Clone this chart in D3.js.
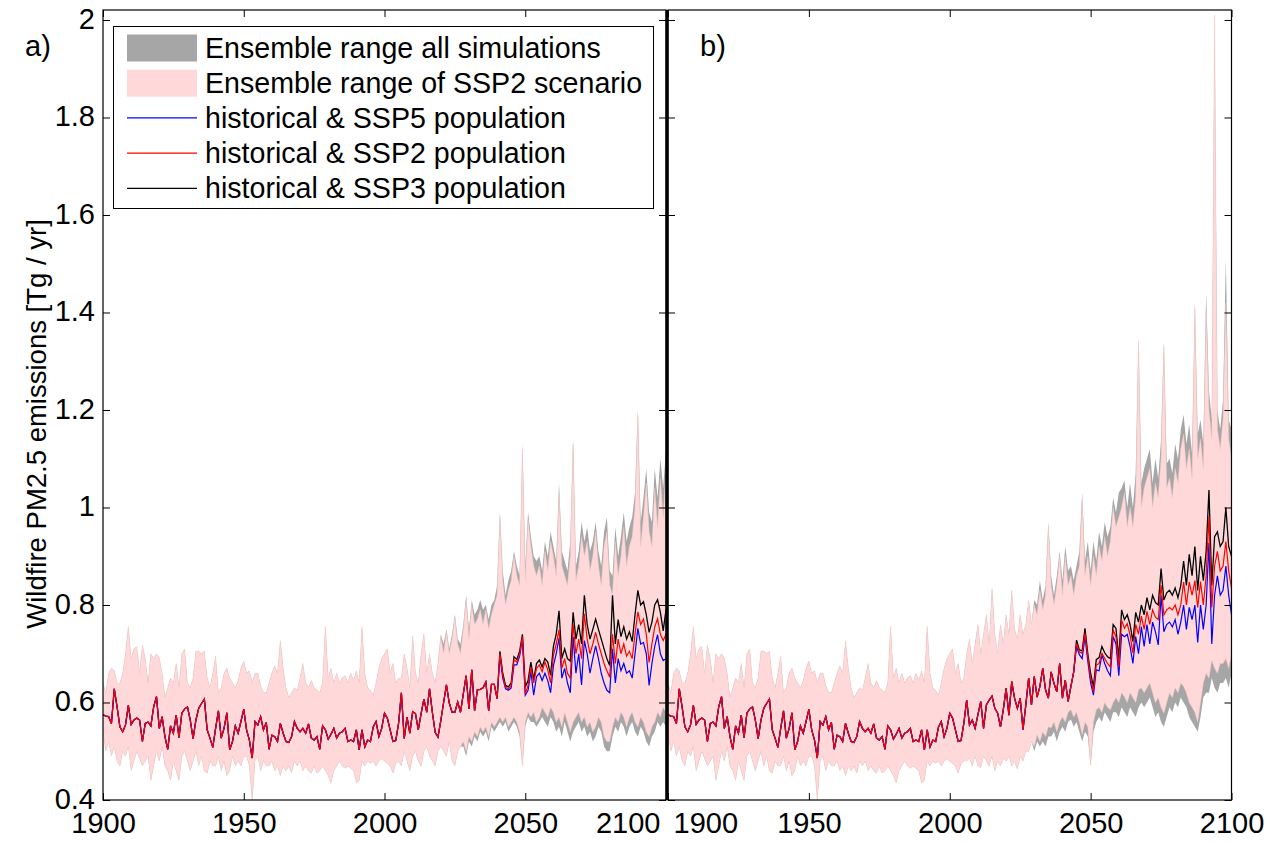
<!DOCTYPE html>
<html>
<head>
<meta charset="utf-8">
<script src="https://cdn.jsdelivr.net/npm/d3@7"></script>
<style>
  body { margin: 0; background: #fff; }
  svg { font-family: "Liberation Sans", Arial, Helvetica, sans-serif; }
  .tick text { font-size: 29px; fill: #000; }
  .tick line { stroke: #000; stroke-width: 1; }
</style>
</head>
<body>
<div id="chart"></div>
<script>
// years on the x axis
var startYear = 1900, endYear = 2100, splitYear = 2006, lineSplitYear = 2040
var xTicks = [1900, 1950, 2000, 2050, 2100]
var yTicks = [0.4, 0.6, 0.8, 1, 1.2, 1.4, 1.6, 1.8, 2]
var yTickLabels = ['0.4', '0.6', '0.8', '1', '1.2', '1.4', '1.6', '1.8', '2']

// historical part (1900-2005), same in both panels
var histLine = [
  0.575, 0.572, 0.571, 0.557, 0.628, 0.591, 0.550, 0.540, 0.554, 0.594,
  0.555, 0.564, 0.568, 0.564, 0.520, 0.557, 0.560, 0.552, 0.591, 0.612,
  0.547, 0.571, 0.530, 0.504, 0.552, 0.537, 0.574, 0.528, 0.578, 0.587,
  0.591, 0.564, 0.526, 0.564, 0.588, 0.598, 0.607, 0.544, 0.527, 0.508,
  0.547, 0.583, 0.527, 0.547, 0.579, 0.503, 0.520, 0.552, 0.537, 0.561,
  0.586, 0.544, 0.523, 0.486, 0.561, 0.554, 0.571, 0.544, 0.559, 0.504,
  0.533, 0.530, 0.520, 0.557, 0.537, 0.520, 0.518, 0.530, 0.561, 0.547,
  0.540, 0.547, 0.537, 0.556, 0.527, 0.523, 0.530, 0.504, 0.552, 0.544,
  0.525, 0.535, 0.547, 0.527, 0.537, 0.540, 0.547, 0.520, 0.523, 0.520,
  0.544, 0.503, 0.544, 0.509, 0.523, 0.520, 0.550, 0.561, 0.530, 0.547,
  0.578, 0.568, 0.544, 0.520, 0.522, 0.557]
var histUp = [
  0.64, 0.62, 0.66, 0.67, 0.665, 0.64, 0.64, 0.66, 0.70, 0.756,
  0.69, 0.71, 0.715, 0.66, 0.718, 0.69, 0.64, 0.70, 0.69, 0.70,
  0.69, 0.66, 0.61, 0.63, 0.65, 0.64, 0.68, 0.63, 0.70, 0.71,
  0.64, 0.63, 0.65, 0.705, 0.705, 0.70, 0.705, 0.65, 0.63, 0.66,
  0.695, 0.62, 0.63, 0.66, 0.67, 0.65, 0.64, 0.63, 0.645, 0.67,
  0.685, 0.66, 0.665, 0.64, 0.66, 0.66, 0.635, 0.62, 0.62, 0.64,
  0.66, 0.675, 0.66, 0.727, 0.67, 0.63, 0.61, 0.62, 0.63, 0.625,
  0.65, 0.68, 0.64, 0.63, 0.645, 0.63, 0.625, 0.62, 0.64, 0.756,
  0.65, 0.67, 0.64, 0.66, 0.64, 0.65, 0.655, 0.64, 0.66, 0.645,
  0.665, 0.64, 0.756, 0.66, 0.63, 0.625, 0.615, 0.64, 0.67, 0.69,
  0.70, 0.71, 0.66, 0.68, 0.64, 0.65]
var histLo = [
  0.54, 0.50, 0.52, 0.49, 0.51, 0.48, 0.47, 0.50, 0.49, 0.51,
  0.46, 0.48, 0.50, 0.485, 0.47, 0.48, 0.49, 0.44, 0.47, 0.50,
  0.48, 0.51, 0.47, 0.46, 0.44, 0.48, 0.46, 0.44, 0.49, 0.50,
  0.48, 0.46, 0.48, 0.50, 0.47, 0.49, 0.46, 0.455, 0.48, 0.47,
  0.47, 0.49, 0.46, 0.48, 0.45, 0.46, 0.49, 0.47, 0.48, 0.47,
  0.49, 0.49, 0.47, 0.40, 0.48, 0.49, 0.46, 0.48, 0.47, 0.47,
  0.48, 0.46, 0.47, 0.45, 0.47, 0.46, 0.47, 0.455, 0.48, 0.47,
  0.48, 0.46, 0.47, 0.46, 0.455, 0.47, 0.455, 0.46, 0.47, 0.46,
  0.45, 0.435, 0.46, 0.47, 0.48, 0.47, 0.465, 0.47, 0.465, 0.46,
  0.435, 0.44, 0.48, 0.47, 0.48, 0.475, 0.48, 0.47, 0.48, 0.485,
  0.48, 0.475, 0.47, 0.455, 0.475, 0.48]

// panel a, 2006-2100 (SSP5/SSP3 lines from 2040)
var aSsp2 = [
  0.620, 0.526, 0.570, 0.537,
  0.581, 0.577, 0.544, 0.577, 0.607, 0.580, 0.628, 0.580, 0.539, 0.529,
  0.563, 0.600, 0.636, 0.599, 0.580, 0.580, 0.601, 0.580, 0.618, 0.655,
  0.587, 0.667, 0.583, 0.626, 0.627, 0.630, 0.642, 0.583, 0.637, 0.637,
  0.608, 0.700, 0.655, 0.631, 0.628, 0.635, 0.687, 0.683, 0.700, 0.735,
  0.618, 0.635, 0.673, 0.640, 0.670, 0.677, 0.663, 0.683, 0.667, 0.640,
  0.696, 0.720, 0.749, 0.670, 0.690, 0.660, 0.650, 0.761, 0.700, 0.730,
  0.690, 0.782, 0.730, 0.700, 0.720, 0.744, 0.720, 0.700, 0.680, 0.665,
  0.652, 0.740, 0.680, 0.730, 0.700, 0.720, 0.695, 0.705, 0.690, 0.740,
  0.786, 0.760, 0.771, 0.740, 0.682, 0.720, 0.755, 0.772, 0.740, 0.727, 0.740]
var aSsp5 = [
  0.608, 0.695, 0.650, 0.628, 0.625, 0.630, 0.677, 0.677, 0.695, 0.730,
  0.615, 0.625, 0.663, 0.615, 0.653, 0.660, 0.645, 0.660, 0.645, 0.620,
  0.675, 0.700, 0.732, 0.650, 0.670, 0.640, 0.620, 0.735, 0.660, 0.700,
  0.636, 0.727, 0.700, 0.660, 0.690, 0.716, 0.690, 0.660, 0.640, 0.625,
  0.620, 0.710, 0.640, 0.690, 0.665, 0.680, 0.660, 0.665, 0.650, 0.700,
  0.752, 0.720, 0.723, 0.700, 0.635, 0.680, 0.715, 0.739, 0.700, 0.686, 0.690]
var aSsp3 = [
  0.608, 0.705, 0.660, 0.635, 0.632, 0.640, 0.694, 0.688, 0.705, 0.740,
  0.632, 0.645, 0.683, 0.647, 0.680, 0.687, 0.673, 0.690, 0.683, 0.656,
  0.715, 0.740, 0.788, 0.690, 0.710, 0.690, 0.685, 0.785, 0.730, 0.760,
  0.720, 0.820, 0.760, 0.730, 0.750, 0.771, 0.750, 0.730, 0.710, 0.690,
  0.676, 0.820, 0.720, 0.770, 0.735, 0.755, 0.730, 0.745, 0.725, 0.780,
  0.830, 0.800, 0.807, 0.780, 0.744, 0.765, 0.800, 0.811, 0.785, 0.747, 0.790]
var aPinkUp = [
  0.65, 0.70, 0.67, 0.63,
  0.737, 0.66, 0.64, 0.70, 0.741, 0.66, 0.70, 0.66, 0.64, 0.68,
  0.735, 0.70, 0.745, 0.70, 0.73, 0.776, 0.72, 0.70, 0.75, 0.81,
  0.73, 0.80, 0.76, 0.77, 0.79, 0.76, 0.79, 0.75, 0.78, 0.80,
  0.82, 0.98, 0.85, 0.80, 0.83, 0.85, 0.90, 0.86, 0.84, 1.12,
  0.85, 0.975, 0.92, 0.88, 0.86, 0.88, 0.84, 0.91, 0.87, 0.93,
  0.90, 0.86, 1.03, 0.88, 0.86, 0.84, 0.90, 1.13, 0.85, 0.88,
  0.94, 0.90, 0.93, 0.87, 0.90, 0.95, 0.88, 0.84, 0.92, 0.95,
  0.84, 0.82, 0.93, 0.86, 0.90, 0.96, 0.88, 0.92, 0.94, 1.00,
  1.19, 0.92, 0.98, 1.05, 0.95, 0.92, 1.04, 0.96, 1.06, 0.98, 1.08]
var aPinkLo = [
  0.47, 0.50, 0.48, 0.46,
  0.49, 0.50, 0.48, 0.47, 0.50, 0.51, 0.49, 0.48, 0.47, 0.50,
  0.51, 0.50, 0.49, 0.52, 0.48, 0.47, 0.50, 0.51, 0.52, 0.50,
  0.53, 0.52, 0.54, 0.53, 0.55, 0.54, 0.55, 0.53, 0.56, 0.55,
  0.56, 0.57, 0.56, 0.57, 0.55, 0.56, 0.57, 0.56, 0.54, 0.47,
  0.56, 0.58, 0.57, 0.58, 0.56, 0.57, 0.59, 0.58, 0.57, 0.59,
  0.58, 0.56, 0.57, 0.55, 0.58, 0.56, 0.54, 0.56, 0.57, 0.58,
  0.56, 0.57, 0.55, 0.56, 0.54, 0.55, 0.57, 0.56, 0.53, 0.52,
  0.52, 0.55, 0.57, 0.56, 0.58, 0.57, 0.55, 0.57, 0.58, 0.56,
  0.55, 0.57, 0.56, 0.54, 0.53, 0.55, 0.56, 0.58, 0.57, 0.59, 0.58]
var aGreyUp = [
  0.65, 0.70, 0.67, 0.63,
  0.737, 0.66, 0.64, 0.70, 0.741, 0.66, 0.70, 0.66, 0.64, 0.68,
  0.74, 0.72, 0.75, 0.71, 0.74, 0.78, 0.73, 0.72, 0.76, 0.82,
  0.75, 0.81, 0.78, 0.79, 0.81, 0.79, 0.80, 0.77, 0.80, 0.81,
  0.84, 0.99, 0.87, 0.82, 0.85, 0.87, 0.91, 0.88, 0.86, 1.13,
  0.88, 0.99, 0.94, 0.90, 0.89, 0.90, 0.87, 0.93, 0.90, 0.95,
  0.92, 0.89, 1.05, 0.91, 0.89, 0.87, 0.93, 1.14, 0.88, 0.91,
  0.97, 0.93, 0.96, 0.91, 0.93, 0.97, 0.91, 0.88, 0.95, 0.98,
  0.87, 0.86, 0.96, 0.90, 0.94, 0.99, 0.93, 0.96, 0.98, 1.03,
  1.20, 0.97, 1.02, 1.08, 0.99, 0.97, 1.08, 1.02, 1.10, 1.04, 1.12]
var aGreyLo = [
  0.47, 0.50, 0.48, 0.46,
  0.49, 0.50, 0.48, 0.47, 0.50, 0.51, 0.49, 0.48, 0.47, 0.50,
  0.51, 0.50, 0.49, 0.52, 0.48, 0.47, 0.50, 0.51, 0.51, 0.49,
  0.52, 0.51, 0.53, 0.52, 0.54, 0.53, 0.54, 0.52, 0.55, 0.54,
  0.55, 0.56, 0.55, 0.56, 0.54, 0.55, 0.56, 0.55, 0.53, 0.47,
  0.55, 0.57, 0.56, 0.56, 0.55, 0.56, 0.57, 0.56, 0.55, 0.57,
  0.56, 0.54, 0.55, 0.53, 0.56, 0.54, 0.52, 0.54, 0.55, 0.56,
  0.54, 0.55, 0.53, 0.54, 0.52, 0.53, 0.55, 0.54, 0.51, 0.50,
  0.50, 0.53, 0.55, 0.54, 0.56, 0.55, 0.53, 0.55, 0.56, 0.54,
  0.53, 0.55, 0.54, 0.52, 0.51, 0.53, 0.54, 0.56, 0.55, 0.56, 0.55]

// panel b, 2006-2100
var bSsp2 = [
  0.605, 0.554, 0.564, 0.547,
  0.575, 0.602, 0.547, 0.595, 0.605, 0.613, 0.588, 0.578, 0.550, 0.585,
  0.629, 0.574, 0.643, 0.609, 0.588, 0.609, 0.544, 0.595, 0.650, 0.595,
  0.653, 0.611, 0.633, 0.670, 0.626, 0.609, 0.663, 0.639, 0.622, 0.680,
  0.609, 0.646, 0.602, 0.633, 0.663, 0.721, 0.704, 0.701, 0.742, 0.694,
  0.650, 0.622, 0.677, 0.680, 0.701, 0.690, 0.680, 0.673, 0.749, 0.735,
  0.673, 0.769, 0.752, 0.762, 0.738, 0.701, 0.760, 0.740, 0.777, 0.750,
  0.787, 0.760, 0.790, 0.775, 0.770, 0.841, 0.780, 0.790, 0.795, 0.790,
  0.800, 0.780, 0.800, 0.847, 0.800, 0.847, 0.820, 0.850, 0.795, 0.848,
  0.800, 0.860, 0.982, 0.795, 0.880, 0.910, 0.870, 0.880, 0.930, 0.870, 0.835]
var bSsp5 = [
  0.609, 0.646, 0.602, 0.633, 0.663, 0.715, 0.698, 0.690, 0.735, 0.685,
  0.640, 0.615, 0.667, 0.665, 0.698, 0.680, 0.665, 0.655, 0.735, 0.720,
  0.655, 0.740, 0.735, 0.740, 0.715, 0.680, 0.735, 0.700, 0.755, 0.715,
  0.760, 0.720, 0.765, 0.745, 0.718, 0.820, 0.745, 0.760, 0.765, 0.755,
  0.770, 0.740, 0.765, 0.800, 0.750, 0.795, 0.770, 0.800, 0.723, 0.800,
  0.750, 0.800, 0.927, 0.720, 0.820, 0.860, 0.820, 0.830, 0.880, 0.820, 0.780]
var bSsp3 = [
  0.609, 0.646, 0.602, 0.633, 0.663, 0.728, 0.708, 0.706, 0.752, 0.700,
  0.660, 0.632, 0.688, 0.692, 0.715, 0.702, 0.694, 0.690, 0.760, 0.752,
  0.690, 0.790, 0.770, 0.780, 0.760, 0.725, 0.785, 0.765, 0.800, 0.780,
  0.815, 0.790, 0.820, 0.805, 0.800, 0.875, 0.810, 0.825, 0.830, 0.820,
  0.835, 0.815, 0.840, 0.890, 0.840, 0.904, 0.860, 0.920, 0.830, 0.900,
  0.850, 0.910, 1.036, 0.840, 0.940, 0.950, 0.920, 0.930, 1.000, 0.920, 0.900]
var bPinkUp = [
  0.70, 0.73, 0.68, 0.72,
  0.76, 0.70, 0.74, 0.78, 0.72, 0.834, 0.74, 0.70, 0.76, 0.72,
  0.78, 0.74, 0.831, 0.75, 0.73, 0.78, 0.74, 0.76, 0.81, 0.76,
  0.80, 0.78, 0.83, 0.79, 0.82, 0.96, 0.84, 0.80, 0.84, 0.90,
  0.82, 0.90, 0.84, 0.86, 0.82, 0.86, 0.88, 1.015, 0.86, 0.90,
  0.84, 0.90, 0.86, 0.92, 0.89, 0.94, 0.90, 0.93, 1.00, 0.96,
  0.98, 1.00, 1.03, 0.96, 1.00, 0.96, 1.02, 1.34, 1.00, 1.04,
  1.06, 1.08, 1.00, 1.05, 1.02, 1.10, 1.33, 1.04, 1.06, 1.02,
  1.08, 1.05, 1.12, 1.15, 1.08, 1.12, 1.06, 1.41, 1.10, 1.14,
  1.08, 1.40, 1.20, 1.14, 2.01, 1.16, 1.12, 1.18, 1.42, 1.14, 1.10]
var bPinkLo = [
  0.48, 0.486, 0.47, 0.49,
  0.47, 0.466, 0.49, 0.48, 0.47, 0.49, 0.46, 0.48, 0.47, 0.486,
  0.48, 0.49, 0.47, 0.48, 0.463, 0.49, 0.48, 0.50, 0.50, 0.52,
  0.51, 0.534, 0.52, 0.54, 0.53, 0.55, 0.548, 0.56, 0.54, 0.56,
  0.57, 0.56, 0.58, 0.585, 0.57, 0.58, 0.56, 0.534, 0.56, 0.55,
  0.472, 0.56, 0.585, 0.59, 0.58, 0.60, 0.59, 0.585, 0.60, 0.61,
  0.60, 0.62, 0.612, 0.60, 0.62, 0.61, 0.60, 0.626, 0.63, 0.62,
  0.63, 0.64, 0.62, 0.60, 0.61, 0.59, 0.578, 0.60, 0.62, 0.61,
  0.63, 0.62, 0.64, 0.633, 0.62, 0.60, 0.59, 0.58, 0.56, 0.60,
  0.64, 0.66, 0.65, 0.687, 0.67, 0.66, 0.68, 0.68, 0.69, 0.67, 0.70]
var bGreyUp = [
  0.70, 0.73, 0.68, 0.72,
  0.76, 0.70, 0.74, 0.78, 0.72, 0.834, 0.74, 0.70, 0.76, 0.72,
  0.78, 0.74, 0.831, 0.75, 0.73, 0.78, 0.74, 0.76, 0.81, 0.76,
  0.81, 0.80, 0.85, 0.81, 0.84, 0.97, 0.86, 0.82, 0.86, 0.91,
  0.85, 0.92, 0.87, 0.88, 0.85, 0.88, 0.91, 1.03, 0.89, 0.93,
  0.87, 0.93, 0.89, 0.95, 0.92, 0.97, 0.94, 0.96, 1.02, 0.99,
  1.03, 1.04, 1.056, 1.00, 1.05, 1.00, 1.07, 1.35, 1.05, 1.08,
  1.10, 1.12, 1.05, 1.10, 1.06, 1.14, 1.34, 1.09, 1.10, 1.07,
  1.13, 1.10, 1.16, 1.19, 1.13, 1.17, 1.11, 1.42, 1.15, 1.18,
  1.13, 1.44, 1.24, 1.18, 2.01, 1.20, 1.16, 1.22, 1.51, 1.18, 1.16]
var bGreyLo = [
  0.48, 0.486, 0.47, 0.49,
  0.47, 0.466, 0.49, 0.48, 0.47, 0.49, 0.46, 0.48, 0.47, 0.486,
  0.48, 0.49, 0.47, 0.48, 0.463, 0.49, 0.48, 0.50, 0.50, 0.52,
  0.50, 0.52, 0.51, 0.52, 0.51, 0.53, 0.53, 0.54, 0.52, 0.54,
  0.55, 0.54, 0.56, 0.565, 0.55, 0.56, 0.54, 0.52, 0.54, 0.53,
  0.47, 0.54, 0.56, 0.57, 0.56, 0.58, 0.57, 0.56, 0.58, 0.58,
  0.57, 0.59, 0.58, 0.57, 0.59, 0.58, 0.57, 0.59, 0.60, 0.59,
  0.60, 0.61, 0.59, 0.57, 0.58, 0.56, 0.55, 0.57, 0.59, 0.58,
  0.60, 0.59, 0.61, 0.60, 0.59, 0.57, 0.56, 0.55, 0.54, 0.57,
  0.61, 0.62, 0.62, 0.65, 0.63, 0.62, 0.64, 0.64, 0.65, 0.63, 0.66]

var legendItems = [
  {label: 'Ensemble range all simulations', kind: 'area', color: '#a6a6a6'},
  {label: 'Ensemble range of SSP2 scenario', kind: 'area', color: '#ffd9d9'},
  {label: 'historical & SSP5 population', kind: 'line', color: '#0000ff'},
  {label: 'historical & SSP2 population', kind: 'line', color: '#ff0000'},
  {label: 'historical & SSP3 population', kind: 'line', color: '#000000'}
]

var years = d3.range(startYear, endYear + 1)
var nShared = lineSplitYear - splitYear   // SSP2 values reused before the split

var panels = [
  {id: 'a', label: 'a)', left: 103, right: 666,
   ssp2: aSsp2, ssp5: aSsp5, ssp3: aSsp3, pinkUp: aPinkUp, pinkLo: aPinkLo, greyUp: aGreyUp, greyLo: aGreyLo},
  {id: 'b', label: 'b)', left: 668, right: 1231.5,
   ssp2: bSsp2, ssp5: bSsp5, ssp3: bSsp3, pinkUp: bPinkUp, pinkLo: bPinkLo, greyUp: bGreyUp, greyLo: bGreyLo}
]

var width = 1271, height = 843
var plotTop = 10, plotBottom = 800

var svg = d3.select('#chart').append('svg')
  .attr('width', width)
  .attr('height', height)

var yScale = d3.scaleLinear().domain([0.4, 2.0205]).range([plotBottom, plotTop])

panels.forEach(function(p, pi) {
  var xScale = d3.scaleLinear().domain([startYear, endYear]).range([p.left, p.right])

  var ssp2 = histLine.concat(p.ssp2)
  var ssp5 = histLine.concat(p.ssp2.slice(0, nShared), p.ssp5)
  var ssp3 = histLine.concat(p.ssp2.slice(0, nShared), p.ssp3)
  var pinkUp = histUp.concat(p.pinkUp), pinkLo = histLo.concat(p.pinkLo)
  var greyUp = histUp.concat(p.greyUp), greyLo = histLo.concat(p.greyLo)

  svg.append('clipPath').attr('id', 'clip-' + p.id)
    .append('rect')
    .attr('x', p.left).attr('y', plotTop)
    .attr('width', p.right - p.left).attr('height', plotBottom - plotTop)

  var g = svg.append('g').attr('clip-path', 'url(#clip-' + p.id + ')')

  var band = function(up, lo) {
    return d3.area()
      .x(function(d, i) { return xScale(years[i]) })
      .y0(function(d, i) { return yScale(lo[i]) })
      .y1(function(d) { return yScale(d) })(up)
  }
  var line = d3.line()
    .x(function(d, i) { return xScale(years[i]) })
    .y(function(d) { return yScale(d) })

  g.append('path').attr('d', band(greyUp, greyLo)).attr('fill', '#a6a6a6')
  g.append('path').attr('d', band(pinkUp, pinkLo)).attr('fill', '#ffd9d9')
    .attr('stroke', '#f2c8c8').attr('stroke-width', 0.5)

  g.append('path').attr('d', line(ssp3)).attr('fill', 'none').attr('stroke', '#000').attr('stroke-width', 1.3)
  g.append('path').attr('d', line(ssp5)).attr('fill', 'none').attr('stroke', '#0000ff').attr('stroke-width', 1.2)
  g.append('path').attr('d', line(ssp2)).attr('fill', 'none').attr('stroke', '#ff0000').attr('stroke-width', 1.2)

  // axes, ticks pointing inward on all four sides
  var bottomAxis = svg.append('g')
    .attr('transform', 'translate(0,' + plotBottom + ')')
    .call(d3.axisBottom(xScale).tickValues(xTicks).tickSize(-7).tickSizeOuter(0).tickPadding(12).tickFormat(d3.format('d')))
  bottomAxis.select('.domain').remove()
  // keep the end labels of neighbouring panels from overlapping
  bottomAxis.selectAll('.tick text')
    .attr('text-anchor', function(d) {
      if (pi === 0 && d === endYear) return 'end'
      if (pi === 1 && d === startYear) return 'start'
      return 'middle'
    })
    .attr('x', function(d) {
      if (pi === 0 && d === endYear) return -6
      if (pi === 1 && d === startYear) return 5
      return 0
    })

  svg.append('g')
    .attr('transform', 'translate(0,' + plotTop + ')')
    .call(d3.axisTop(xScale).tickValues(xTicks).tickSize(-7).tickSizeOuter(0).tickFormat(''))
    .select('.domain').remove()

  var leftAxis = svg.append('g')
    .attr('transform', 'translate(' + p.left + ',0)')
    .call(d3.axisLeft(yScale).tickValues(yTicks).tickSize(-7).tickSizeOuter(0).tickPadding(8)
      .tickFormat(function(d, i) { return pi === 0 ? yTickLabels[i] : '' }))
  leftAxis.select('.domain').remove()
  leftAxis.selectAll('.tick text').attr('dy', '0.28em')

  svg.append('g')
    .attr('transform', 'translate(' + p.right + ',0)')
    .call(d3.axisRight(yScale).tickValues(yTicks).tickSize(-7).tickSizeOuter(0).tickFormat(''))
    .select('.domain').remove()

  svg.append('rect')
    .attr('x', p.left).attr('y', plotTop)
    .attr('width', p.right - p.left).attr('height', plotBottom - plotTop)
    .attr('fill', 'none').attr('stroke', '#000').attr('stroke-width', 1.2)

  svg.append('text')
    .attr('x', p.left + (pi === 0 ? -78 : 32))
    .attr('y', 56)
    .style('font-size', '29px')
    .text(p.label)
})

// the shared edge between the two panels is drawn heavier
svg.append('line')
  .attr('x1', 667).attr('x2', 667)
  .attr('y1', plotTop).attr('y2', plotBottom)
  .attr('stroke', '#000').attr('stroke-width', 3)

// y axis title
svg.append('text')
  .attr('transform', 'translate(46,424) rotate(-90)')
  .attr('text-anchor', 'middle')
  .style('font-size', '27.5px')
  .text('Wildfire PM2.5 emissions [Tg / yr]')

// legend
var legend = svg.append('g').attr('class', 'legend')
legend.append('rect')
  .attr('x', 113.5).attr('y', 26.5).attr('width', 540).attr('height', 182)
  .attr('fill', '#fff').attr('stroke', '#000').attr('stroke-width', 1)

var rows = legend.selectAll('.row')
  .data(legendItems)
  .enter()
  .append('g')
  .attr('class', 'row')
  .attr('transform', function(d, i) { return 'translate(0,' + (47.5 + i * 35.2) + ')' })

rows.filter(function(d) { return d.kind === 'area' })
  .append('rect')
  .attr('x', 127).attr('y', -13).attr('width', 70).attr('height', 27)
  .attr('fill', function(d) { return d.color })

rows.filter(function(d) { return d.kind === 'line' })
  .append('line')
  .attr('x1', 127).attr('x2', 197).attr('y1', 0).attr('y2', 0)
  .attr('stroke', function(d) { return d.color })
  .attr('stroke-width', 1.2)

rows.append('text')
  .attr('x', 205).attr('y', 10)
  .style('font-size', '28.6px')
  .text(function(d) { return d.label })
</script>
</body>
</html>
